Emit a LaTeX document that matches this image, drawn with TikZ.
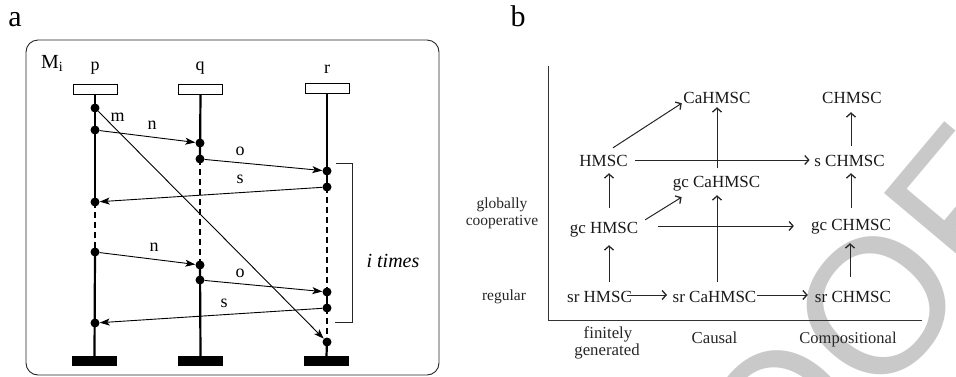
\documentclass[tikz,border=0pt]{standalone}
\usepackage{fontspec}
\setmainfont{Liberation Serif}
\newfontfamily\wmfont{Liberation Sans}
\usetikzlibrary{arrows.meta,calc}

\tikzset{
  fs/.style={font=\fontsize{#1}{#1}\selectfont},
  frame/.style={draw=black!85, line width=0.9pt, rounded corners=12pt},
  headbox/.style={draw=black, line width=0.9pt, fill=white, minimum width=44pt, minimum height=10pt, inner sep=0pt},
  footbar/.style={fill=black, minimum width=45pt, minimum height=10pt, inner sep=0pt},
  dot/.style={circle, fill=black, minimum size=9pt, inner sep=0pt},
  life/.style={line width=2.2pt, black},
  lifedash/.style={line width=2.4pt, black, dash pattern=on 6pt off 4pt},
  msg/.style={line width=0.9pt, black, -{Stealth[length=10pt,width=7pt,inset=2.5pt]}},
  mlabel/.style={fs=18, anchor=base, inner sep=0pt},
  bnode/.style={fs=17, anchor=base, inner sep=0pt, text height=12pt, text depth=4pt, text=black!90},
  barrow/.style={line width=1pt, black!85, -{Straight Barb[length=4pt,width=9pt,line width=1.3pt]}},
  axisline/.style={line width=1pt, black!80},
  blabel/.style={anchor=base, inner sep=0pt, text=black!85},
}

\begin{document}
\begin{tikzpicture}[x=1pt,y=-1pt]
\useasboundingbox (0,0) rectangle (956,376);

% light grey stamp in the background
\node[rotate=50, anchor=center, inner sep=0pt, text=black!21,
      font=\wmfont\fontsize{192}{192}\selectfont] (stamp) at (781,420) {PROOF};

% ---------------- panel a: message sequence chart ----------------
\node[fs=30, anchor=base, inner sep=0pt] (tagA) at (15,26) {a};
\draw[frame] (26,40) rectangle (439,375);
\node[fs=20, anchor=base west, inner sep=0pt] (Mi) at (41,68) {M\raisebox{-0.35ex}{\fontsize{14}{14}\selectfont i}};

% instance names
\node[mlabel] (pname) at (95,70) {p};
\node[mlabel] (qname) at (200,70) {q};
\node[mlabel] (rname) at (327,73) {r};

% instance heads and ends
\node[headbox] (ph) at (95,89) {};
\node[headbox] (qh) at (200.5,89) {};
\node[headbox] (rh) at (327,88) {};
\node[footbar] (pf) at (94.5,361) {};
\node[footbar] (qf) at (200.5,361) {};
\node[footbar] (rf) at (326.5,361) {};

% events
\node[dot] (p1) at (95,108) {};
\node[dot] (p2) at (95,130) {};
\node[dot] (p3) at (95,202) {};
\node[dot] (p4) at (95,252) {};
\node[dot] (p5) at (95,323) {};
\node[dot] (q1) at (200,143) {};
\node[dot] (q2) at (200,159) {};
\node[dot] (q3) at (200,265) {};
\node[dot] (q4) at (200,280) {};
\node[dot] (r1) at (327,171) {};
\node[dot] (r2) at (327,187) {};
\node[dot] (r3) at (327,292) {};
\node[dot] (r4) at (327,308) {};
\node[dot] (r5) at (327,342) {};

% lifelines
\draw[life] (ph.south) -- (p3.center);
\draw[lifedash] (p3.center) -- (p4.center);
\draw[life] (p4.center) -- (pf.north);
\draw[life] (qh.south) -- (q2.center);
\draw[lifedash] (q2.center) -- (q3.center);
\draw[life] (q3.center) -- (qf.north);
\draw[life] (rh.south) -- (r2.center);
\draw[lifedash] (r2.center) -- (r3.center);
\draw[life] (r3.center) -- (r4.center);
\draw[lifedash] (r4.center) -- (r5.center);
\draw[life] (r5.center) -- (rf.north);

% messages
\draw[msg] (p1) -- (r5);
\draw[msg] (p2) -- (q1);
\draw[msg] (q2) -- (r1);
\draw[msg] (r2) -- (p3);
\draw[msg] (p4) -- (q3);
\draw[msg] (q4) -- (r3);
\draw[msg] (r4) -- (p5);

\node[mlabel] (lm) at (117.5,121) {m};
\node[mlabel] (ln1) at (152,129) {n};
\node[mlabel] (lo1) at (240,155) {o};
\node[mlabel] (ls1) at (240,183) {s};
\node[mlabel] (ln2) at (154,251) {n};
\node[mlabel] (lo2) at (240,277) {o};
\node[mlabel] (ls2) at (224,307) {s};

% repetition bracket
\draw[line width=0.9pt, black!85] (336,163) -- (352,163) -- (352,322) -- (335,322);
\node[anchor=base, inner sep=0pt, font=\fontsize{20}{20}\selectfont\itshape] (itimes) at (393,267) {i times};

% ---------------- panel b: inclusion diagram ----------------
\node[fs=30, anchor=base, inner sep=0pt] (tagB) at (518,26) {b};
\draw[axisline] (548,66) -- (548,320) -- (922,320);

\node[bnode] (CaHMSC) at (717,103) {CaHMSC};
\node[bnode] (CHMSC) at (852,103) {CHMSC};
\node[bnode] (HMSC) at (603.5,166) {HMSC};
\node[bnode] (sCHMSC) at (849.5,166) {s CHMSC};
\node[bnode] (gcCaHMSC) at (716.5,187) {gc CaHMSC};
\node[bnode] (gcHMSC) at (604,233) {gc HMSC};
\node[bnode] (gcCHMSC) at (851,230) {gc CHMSC};
\node[bnode] (srHMSC) at (599.5,302) {sr HMSC};
\node[bnode] (srCaHMSC) at (714.5,302) {sr CaHMSC};
\node[bnode] (srCHMSC) at (853,302) {sr CHMSC};

\draw[barrow] ([shift={(9.5,-6)}]HMSC.north) -- ([shift={(-1.5,-4)}]CaHMSC.south west);
\draw[barrow] ([shift={(7.5,-2)}]HMSC.east) -- ([shift={(-4.5,-2)}]sCHMSC.west);
\draw[barrow] ([shift={(1.5,-8)}]sCHMSC.north) -- ([shift={(-1,5)}]CHMSC.south);
\draw[barrow] ([shift={(0.5,-7)}]gcCaHMSC.north) -- (CaHMSC.south);
\draw[barrow] ([shift={(2.5,-8)}]srCaHMSC.north) -- ([shift={(0.5,4)}]gcCaHMSC.south);
\draw[barrow] ([shift={(5,-13)}]gcHMSC.north) -- ([shift={(5.5,3)}]HMSC.south);
\draw[barrow] ([shift={(6.75,-1)}]gcHMSC.north east) -- ([shift={(9,6)}]gcCaHMSC.south west);
\draw[barrow] ([shift={(19.75,-3)}]gcHMSC.east) -- ([shift={(-17,0)}]gcCHMSC.west);
\draw[barrow] ([shift={(0,-10)}]gcCHMSC.north) -- ([shift={(1.5,3)}]sCHMSC.south);
\draw[barrow] ([shift={(9.5,-8)}]srHMSC.north) -- ([shift={(5,8)}]gcHMSC.south);
\draw[barrow] ([shift={(-3,-13)}]srCHMSC.north) -- ([shift={(-1,9)}]gcCHMSC.south);
\draw[barrow] ([shift={(-5,-3)}]srHMSC.east) -- ([shift={(-5.5,-3)}]srCaHMSC.west);
\draw[barrow] ([shift={(0.5,-3)}]srCaHMSC.east) -- ([shift={(-7,-3)}]srCHMSC.west);

% axis captions
\node[blabel, fs=15.5] (glob) at (502,208) {globally};
\node[blabel, fs=15.5] (coop) at (502,225) {cooperative};
\node[blabel, fs=15.5] (reg) at (504,300) {regular};
\node[blabel, fs=16.8] (fin) at (608,338) {finitely};
\node[blabel, fs=16.8] (gen) at (607,355) {generated};
\node[blabel, fs=16.8] (caus) at (714.5,343) {Causal};
\node[blabel, fs=16.5] (comp) at (848,343) {Compositional};
\end{tikzpicture}
\end{document}
